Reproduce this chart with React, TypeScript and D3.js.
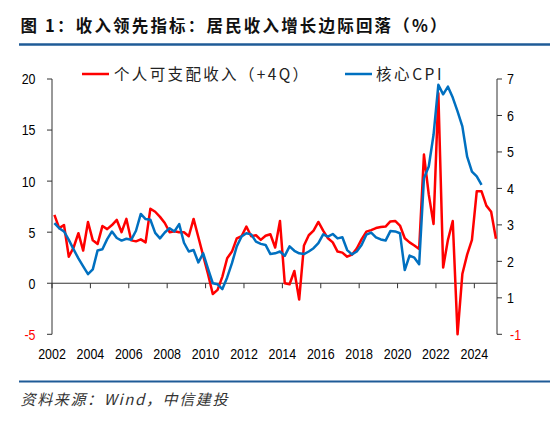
import React from "react";
import * as d3 from "d3";

const TITLE = "图 1：收入领先指标：居民收入增长边际回落（%）";
const SOURCE = "资料来源：Wind，中信建投";
const LEGEND_INCOME = "个人可支配收入（+4Q）";
const LEGEND_CPI = "核心CPI";

const START_YEAR = 2002;

// 个人可支配收入（+4Q）, quarterly from 2002Q1, left axis (%)
const income = [
  6.7, 5.4, 5.7, 2.6, 3.5, 4.9, 3.2, 6.0, 4.2, 3.85,
  5.6, 5.3, 5.7, 6.2, 5.0, 6.3, 4.2, 4.1, 4.3, 4.0,
  7.3, 7.0, 6.5, 5.9, 5.0, 5.1, 5.0, 5.0, 4.6, 6.3,
  4.5, 2.7, 0.9, -1.05, -0.65, 0.65, 2.45, 3.1, 4.4, 4.6,
  5.55, 4.6, 4.7, 4.25, 4.65, 4.8, 3.5, 6.1, 0.0, -0.1,
  1.2, -1.6, 3.7, 4.7, 5.15, 6.0, 5.15, 4.4, 4.0, 3.1,
  3.0, 2.6, 2.8, 3.4, 4.3, 5.05, 5.2, 5.4, 5.5, 5.55,
  6.05, 6.1, 5.65, 4.4, 4.0, 3.7, 3.35, 12.6, 8.7, 5.8,
  18.6, 1.55, 4.25, 6.1, -5.0, 0.9, 2.8, 4.25, 9.0, 9.0,
  7.6, 7.0, 4.35,
];

// 核心CPI, quarterly from 2002Q1, right axis (%)
const coreCpi = [
  3.05, 2.91, 2.82, 2.59, 2.33, 2.08, 1.86, 1.65, 1.78, 2.3,
  2.33, 2.61, 2.82, 2.64, 2.57, 2.62, 2.59, 2.84, 3.3, 3.16,
  3.14, 2.78, 2.63, 2.79, 2.91, 2.82, 3.02, 2.51, 2.27, 2.31,
  1.97, 2.22, 1.8, 1.4, 1.37, 1.24, 1.56, 1.95, 2.41, 2.68,
  2.77, 2.74, 2.54, 2.48, 2.45, 2.2, 2.22, 2.27, 2.15, 2.41,
  2.29, 2.22, 2.2, 2.27, 2.36, 2.5, 2.74, 2.68, 2.75, 2.63,
  2.66, 2.31, 2.19, 2.27, 2.45, 2.73, 2.79, 2.66, 2.6, 2.57,
  2.83, 2.82, 2.77, 1.76, 2.16, 2.1, 1.92, 4.28, 4.6, 5.47,
  6.84, 6.58, 6.79, 6.49, 6.11, 5.7, 4.87, 4.46, 4.33, 4.1,
];

const xTickYears = [2002, 2004, 2006, 2008, 2010, 2012, 2014, 2016, 2018, 2020, 2022, 2024];
const leftTicks = [20, 15, 10, 5, 0, -5];
const rightTicks = [7, 6, 5, 4, 3, 2, 1, 0];
const rightTickLabels = ["7", "6", "5", "4", "3", "2", "1", "-1"];

const RED = "#ff0000";
const BLUE = "#0070c0";
const RULE = "#1f5b97";
const NUM_FONT = "'Liberation Sans', Arial, sans-serif";
const CJK_FONT = "'Noto Sans CJK SC', 'Noto Sans', sans-serif";

const quarterTime = (i: number) => START_YEAR + 0.125 + 0.25 * i;

const x = d3.scaleLinear().domain([2002, 2025.18]).range([52, 497]);
const yL = d3.scaleLinear().domain([-5, 20]).range([334.3, 79]);
const yR = d3.scaleLinear().domain([0, 7]).range([334.3, 79]);

const lineL = d3
  .line<number>()
  .x((_, i) => x(quarterTime(i)))
  .y((d) => yL(d));
const lineR = d3
  .line<number>()
  .x((_, i) => x(quarterTime(i)))
  .y((d) => yR(d));

function Num({ x, y, anchor, fill = "#000", children }: any) {
  return (
    <text
      transform={`translate(${x},${y}) scale(0.83,1)`}
      textAnchor={anchor}
      fontFamily={NUM_FONT}
      fontSize={15}
      fill={fill}
    >
      {children}
    </text>
  );
}

export default function App() {
  const left = x.range()[0];
  const right = x.range()[1];
  const zeroY = yL(0);
  return (
    <svg
      width={550}
      height={422}
      style={{ position: "absolute", left: 0, top: 0, background: "#fff" }}
    >
      <rect width={550} height={422} fill="#fff" />
      {/* Title */}
      <text
        x={20.5}
        y={31.5}
        fontFamily={CJK_FONT}
        fontWeight="bold"
        fontSize={16.5}
        fill="#111"
        textLength={426}
        lengthAdjust="spacing"
      >
        {TITLE}
      </text>
      <line x1={19} x2={550} y1={44.5} y2={44.5} stroke={RULE} strokeWidth={2.5} />

      {/* Legend */}
      <line x1={82} x2={109} y1={74} y2={74} stroke={RED} strokeWidth={2.5} />
      <text
        x={114}
        y={80}
        fontFamily={CJK_FONT}
        fontSize={15.5}
        fill="#222"
        textLength={194}
        lengthAdjust="spacing"
      >
        {LEGEND_INCOME}
      </text>
      <line x1={345} x2={372} y1={74} y2={74} stroke={BLUE} strokeWidth={2.5} />
      <text
        x={376}
        y={80}
        fontFamily={CJK_FONT}
        fontSize={15.5}
        fill="#222"
        textLength={65.5}
        lengthAdjust="spacing"
      >
        {LEGEND_CPI}
      </text>

      {/* Left axis */}
      <line x1={left} x2={left} y1={yL(20)} y2={yL(-5)} stroke="#333" strokeWidth={1} />
      {leftTicks.map((v) => (
        <g key={"l" + v}>
          <line x1={left - 5} x2={left} y1={yL(v)} y2={yL(v)} stroke="#333" strokeWidth={1} />
          <Num x={35.5} y={yL(v) + 5.4} anchor="end" fill={v < 0 ? RED : "#000"}>
            {String(v)}
          </Num>
        </g>
      ))}

      {/* Right axis */}
      <line x1={right} x2={right} y1={yR(7)} y2={yR(0)} stroke="#333" strokeWidth={1} />
      {rightTicks.map((v, i) => (
        <g key={"r" + v}>
          <line x1={right} x2={right + 5} y1={yR(v)} y2={yR(v)} stroke="#333" strokeWidth={1} />
          <Num
            x={rightTickLabels[i].startsWith("-") ? 510 : 507}
            y={yR(v) + 5.4}
            anchor="start"
            fill={rightTickLabels[i].startsWith("-") ? RED : "#000"}
          >
            {rightTickLabels[i]}
          </Num>
        </g>
      ))}

      {/* X axis at zero */}
      <line x1={left} x2={right} y1={zeroY} y2={zeroY} stroke="#333" strokeWidth={1} />
      {xTickYears.map((yr) => (
        <g key={"x" + yr}>
          <line x1={x(yr)} x2={x(yr)} y1={zeroY} y2={zeroY + 5} stroke="#333" strokeWidth={1} />
          <Num x={x(yr)} y={359.3} anchor="middle">
            {String(yr)}
          </Num>
        </g>
      ))}

      {/* Series */}
      <path
        d={lineL(income) || ""}
        fill="none"
        stroke={RED}
        strokeWidth={2.5}
        strokeLinejoin="round"
      />
      <path
        d={lineR(coreCpi) || ""}
        fill="none"
        stroke={BLUE}
        strokeWidth={2.5}
        strokeLinejoin="round"
      />

      {/* Footer */}
      <line x1={19} x2={550} y1={381.5} y2={381.5} stroke={RULE} strokeWidth={2} />
      <text
        x={20.5}
        y={405}
        fontFamily={CJK_FONT}
        fontStyle="italic"
        fontSize={15}
        fill="#333"
        textLength={207}
        lengthAdjust="spacing"
      >
        {SOURCE}
      </text>
    </svg>
  );
}
